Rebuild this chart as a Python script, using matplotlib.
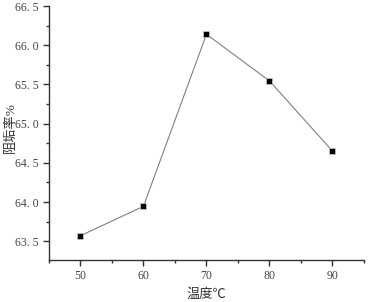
import matplotlib
matplotlib.use("Agg")
import matplotlib.pyplot as plt
from matplotlib.ticker import MultipleLocator

plt.rcParams['font.family'] = ['Liberation Serif', 'Noto Sans CJK SC']

temperature = [50, 60, 70, 80, 90]
scale_inhibition = [63.57, 63.945, 66.14, 65.545, 64.65]

fig = plt.figure(figsize=(3.68, 3.02), dpi=100)
ax = fig.add_axes([0.133, 0.139, 0.856, 0.841])

ax.plot(temperature, scale_inhibition, color='#808080', lw=0.8,
        marker='s', markersize=5, markerfacecolor='black',
        markeredgecolor='#cccccc', markeredgewidth=0.5)

ax.set_xlim(45, 95)
ax.set_ylim(63.26, 66.5)
ax.xaxis.set_major_locator(MultipleLocator(10))
ax.xaxis.set_minor_locator(MultipleLocator(5))
ax.yaxis.set_minor_locator(MultipleLocator(0.25))
ax.set_yticks([63.5, 64.0, 64.5, 65.0, 65.5, 66.0, 66.5])
ax.set_yticklabels(['63. 5', '64. 0', '64. 5', '65. 0', '65. 5', '66. 0', '66. 5'])

for s in ['top', 'right']:
    ax.spines[s].set_visible(False)
for s in ['left', 'bottom']:
    ax.spines[s].set_linewidth(1.0)
    ax.spines[s].set_color('#333333')

ax.tick_params(which='major', direction='out', length=4, width=1,
               labelsize=8.5, colors='#333333', labelcolor='#444444')
ax.tick_params(which='minor', direction='out', length=2.5, width=1, colors='#333333')

ax.set_xlabel('温度℃', fontsize=9.5, color='#333333', labelpad=4)
ax.set_ylabel('阻垢率%', fontsize=9.5, color='#333333')
ax.yaxis.set_label_coords(-0.102, 0.52)

fig.savefig('out.png', dpi=100)
